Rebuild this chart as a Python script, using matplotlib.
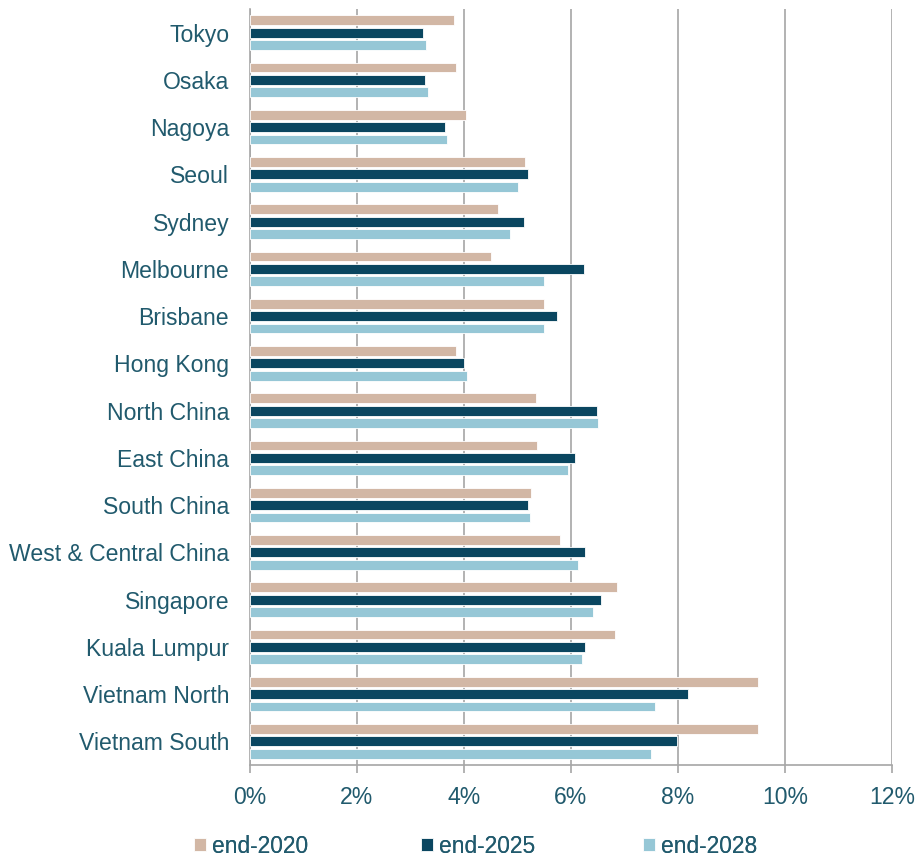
import matplotlib.pyplot as plt
import numpy as np
from matplotlib.ticker import PercentFormatter

plt.rcParams['font.family'] = ['Liberation Sans', 'DejaVu Sans']

# Markets, top to bottom
markets = ['Tokyo', 'Osaka', 'Nagoya', 'Seoul', 'Sydney', 'Melbourne', 'Brisbane',
           'Hong Kong', 'North China', 'East China', 'South China',
           'West & Central China', 'Singapore', 'Kuala Lumpur',
           'Vietnam North', 'Vietnam South']

# Yields in percent
end_2020 = [3.81, 3.85, 4.04, 5.14, 4.64, 4.50, 5.49, 3.85, 5.35, 5.37, 5.26,
            5.79, 6.87, 6.82, 9.50, 9.50]
end_2025 = [3.23, 3.28, 3.65, 5.19, 5.12, 6.25, 5.74, 4.00, 6.48, 6.07, 5.19,
            6.27, 6.57, 6.27, 8.18, 7.99]
end_2028 = [3.30, 3.33, 3.69, 5.01, 4.86, 5.49, 5.49, 4.06, 6.50, 5.95, 5.23,
            6.13, 6.41, 6.20, 7.58, 7.49]

series = [('end-2020', end_2020, '#d2b7a5'),
          ('end-2025', end_2025, '#0a4660'),
          ('end-2028', end_2028, '#96c7d6')]

text_color = '#215a6d'
grid_color = '#a6a6a6'

fig = plt.figure(figsize=(9.17, 8.59), dpi=100)
ax = fig.add_axes([0.2726, 0.1094, 0.70, 0.8801])

y = np.arange(len(markets))
step = 0.262
height = 0.21
bars = []
for k, (label, values, color) in enumerate(series):
    b = ax.barh(y + (k - 1) * step, values, height=height, color=color,
                edgecolor='white', linewidth=0.6, label=label, zorder=3)
    bars.append(b)

ax.set_xlim(0, 12)
ax.set_xticks(range(0, 13, 2))
ax.xaxis.set_major_formatter(PercentFormatter(decimals=0))
ax.set_ylim(len(markets) - 0.5, -0.5)
ax.set_yticks(y)
ax.set_yticklabels(markets)

ax.grid(axis='x', color=grid_color, linewidth=1.2, zorder=0)
for side in ['top', 'right']:
    ax.spines[side].set_visible(False)
for side in ['left', 'bottom']:
    ax.spines[side].set_color(grid_color)
    ax.spines[side].set_linewidth(1.2)

ax.tick_params(axis='x', colors=grid_color, labelcolor=text_color,
               labelsize=16.6, length=6, width=1.2, pad=9)
ax.tick_params(axis='y', length=0, labelcolor=text_color, labelsize=16.6, pad=15)

# one legend entry per series, placed along the bottom
legend_x = [0.2116, 0.459, 0.701]
for b, (label, _, _), lx in zip(bars, series, legend_x):
    leg = fig.legend([b], [label], loc='center left', bbox_to_anchor=(lx, 0.015),
                     frameon=False, fontsize=16.4, labelcolor=text_color,
                     handlelength=0.53, handleheight=0.5, handletextpad=0.25,
                     borderpad=0, borderaxespad=0)
    fig.add_artist(leg)

fig.savefig('out.png', dpi=100)
